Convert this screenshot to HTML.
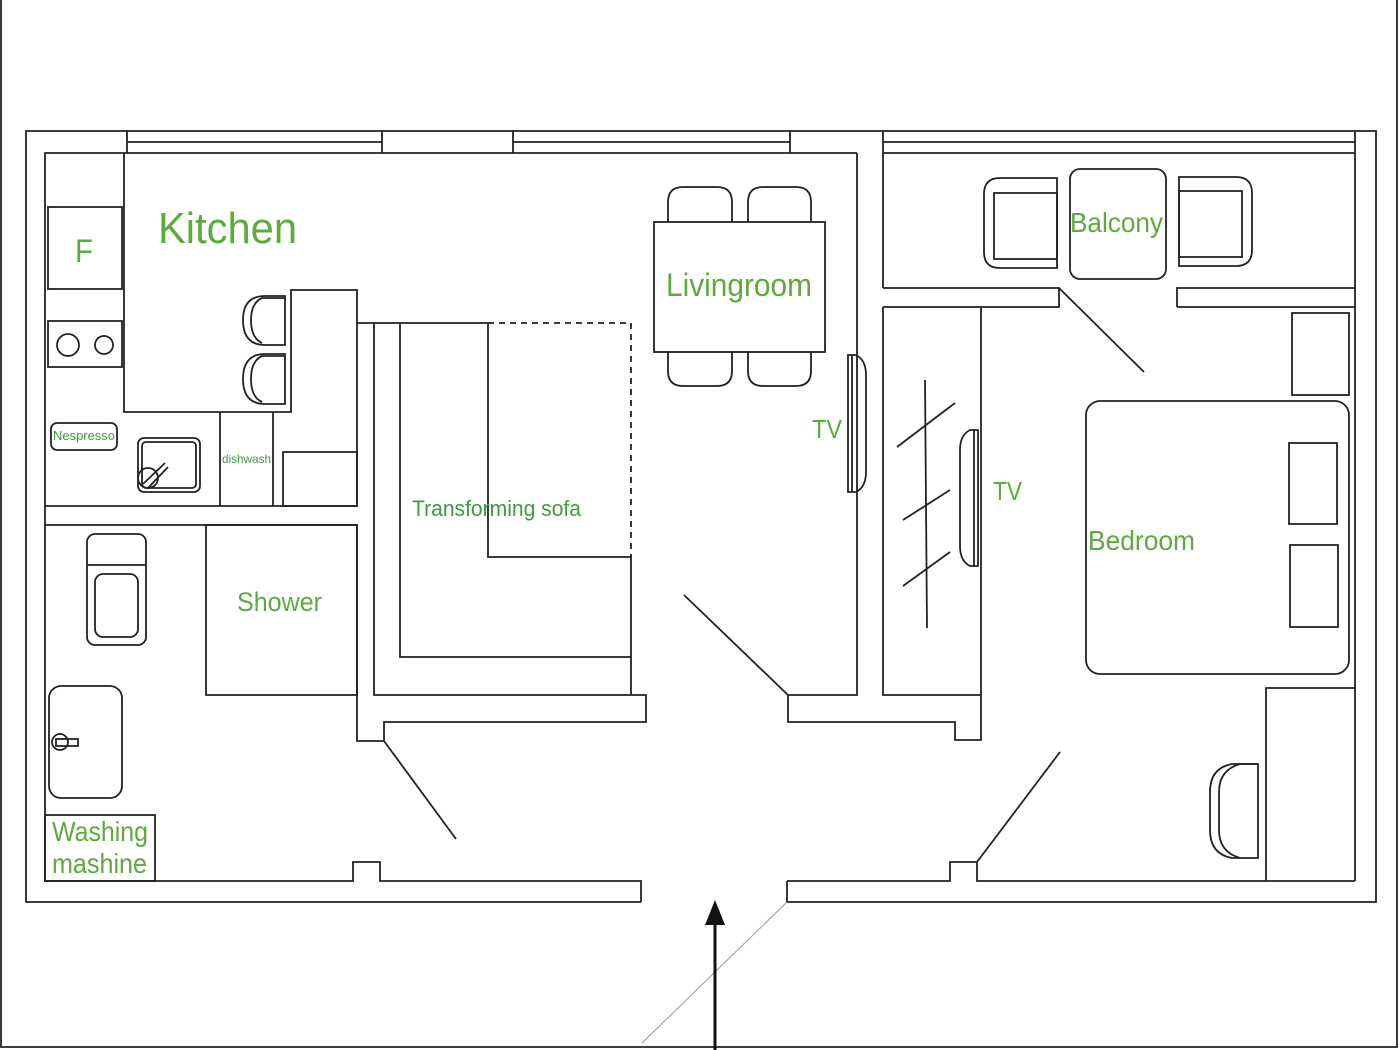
<!DOCTYPE html>
<html><head><meta charset="utf-8"><style>
html,body{margin:0;padding:0;background:#fff;}
svg{display:block;}
text{font-family:"Liberation Sans",sans-serif;fill:#5dab3e;}
</style></head><body>
<svg width="1400" height="1050" viewBox="0 0 1400 1050" xmlns="http://www.w3.org/2000/svg">
<g fill="none" stroke="#222" stroke-width="1.8">
<path d="M1 0 V1047 H1397 V0"/>
<path d="M641 902 H26 V131 H1376 V902 H787 V881"/>
<path d="M641 902 V881 H380 V862 H353 V881 H45 V153 H857"/>
<path d="M127 131 V153 M382 131 V153 M127 142 H382"/>
<path d="M513 131 V153 M790 131 V153 M513 142 H790"/>
<path d="M883 131 V288 M883 142 H1355 M883 153 H1355 M1355 131 V288"/>
<path d="M124 153 V412 H291 V290 H357 V506 M291 412 V290"/>
<path d="M45 506 H357"/>
<path d="M220 412 V506 M273 412 V506"/>
<rect x="283" y="452" width="74" height="54"/>
<rect x="48" y="207" width="74" height="82"/>
<rect x="48" y="321" width="74" height="46"/>
<circle cx="68" cy="345" r="11"/><circle cx="104" cy="345" r="9"/>
<rect x="51" y="423" width="66" height="27" rx="6"/>
<rect x="138" y="438" width="62" height="54" rx="6"/>
<rect x="142" y="442" width="54" height="46" rx="4"/>
<circle cx="148" cy="478" r="10"/>
<path d="M143 484 L165 463 M148 488 L168 467"/>
<path d="M285 296 H265 Q243 296 243 320 Q243 345 265 345 H285 Z"/>
<path d="M285 298 H262 Q251 303 251 320 Q251 338 262 343"/>
<path d="M285 354 H265 Q243 354 243 379 Q243 404 265 404 H285 Z"/>
<path d="M285 356 H262 Q251 361 251 379 Q251 397 262 402"/>
<path d="M45 525 H357 V741 H384 V722 H646 V695 H374 V323"/>
<rect x="206" y="525" width="151" height="170"/>
<rect x="87" y="534" width="59" height="111" rx="8"/>
<path d="M87 565 H146"/>
<rect x="95" y="574" width="43" height="63" rx="8"/>
<rect x="49" y="686" width="73" height="112" rx="12"/>
<circle cx="60" cy="742" r="8"/>
<rect x="56" y="739" width="22" height="7"/>
<rect x="45" y="815" width="110" height="66"/>
<path d="M384 741 L456 839"/>
<path d="M357 323 H488 M400 323 V657 H631 V557 H488 V323 M631 557 V695"/>
<path d="M488 323 H631 V557" stroke-dasharray="6,5"/>
<path d="M857 153 V695 H788 V722 H955 V740 H981 V307"/>
<path d="M883 307 V695 H981"/>
<path d="M684 595 L788 695"/>
<rect x="654" y="222" width="171" height="130"/>
<path d="M668 222 V202 Q668 187 683 187 H717 Q732 187 732 202 V222"/>
<path d="M748 222 V202 Q748 187 763 187 H796 Q811 187 811 202 V222"/>
<path d="M668 352 V371 Q668 386 683 386 H717 Q732 386 732 371 V352"/>
<path d="M748 352 V371 Q748 386 763 386 H796 Q811 386 811 371 V352"/>
<path d="M848 355 H856 Q866 360 866 375 V472 Q866 487 856 492 H848 Z M852 355 V492"/>
<path d="M978 430 H970 Q960 435 960 450 V546 Q960 561 970 566 H978 Z M974 430 V566"/>
<path d="M925 380 L927 628 M897 447 L955 403 M903 520 L950 490 M903 586 L950 552"/>
<path d="M883 288 H1059 V307 H883 M1177 307 V288 H1355 V881 M1177 307 H1355"/>
<path d="M1059 288 L1144 372"/>
<path d="M1057 178 H1000 Q984 178 984 194 V252 Q984 268 1000 268 H1057 Z"/>
<rect x="994" y="193" width="63" height="66"/>
<rect x="1070" y="169" width="96" height="110" rx="10"/>
<path d="M1179 177 H1236 Q1252 177 1252 193 V250 Q1252 266 1236 266 H1179 Z"/>
<rect x="1179" y="191" width="63" height="66"/>
<rect x="1292" y="313" width="57" height="82"/>
<rect x="1086" y="401" width="263" height="273" rx="14"/>
<rect x="1289" y="443" width="48" height="81"/>
<rect x="1290" y="545" width="48" height="82"/>
<path d="M1266 881 V688 H1355"/>
<path d="M1258 764 H1232 Q1210 768 1210 792 V830 Q1210 854 1232 858 H1258 Z"/>
<path d="M1258 764 H1240 Q1219 770 1219 792 V830 Q1219 852 1240 858"/>
<path d="M787 881 H950 V862 H977 V881 H1355"/>
<path d="M977 862 L1060 752"/>
</g>
<path d="M787 902 L642 1043" stroke="#999" stroke-width="1" fill="none"/>
<path d="M715 1050 V920" stroke="#111" stroke-width="3"/>
<polygon points="715,900 705,925 725,925" fill="#111"/>
<g lengthAdjust="spacingAndGlyphs">
<text x="158" y="243" font-size="44" textLength="139" lengthAdjust="spacingAndGlyphs">Kitchen</text>
<text x="75" y="262" font-size="32" textLength="18" lengthAdjust="spacingAndGlyphs">F</text>
<text x="666" y="296" font-size="32" textLength="146" lengthAdjust="spacingAndGlyphs">Livingroom</text>
<text x="812" y="438" font-size="26" textLength="30" lengthAdjust="spacingAndGlyphs">TV</text>
<text x="993" y="500" font-size="26" textLength="29" lengthAdjust="spacingAndGlyphs">TV</text>
<text x="1070" y="232" font-size="28" textLength="93" lengthAdjust="spacingAndGlyphs">Balcony</text>
<text x="1088" y="550" font-size="28" textLength="107" lengthAdjust="spacingAndGlyphs">Bedroom</text>
<text x="412" y="516" font-size="22" textLength="169" lengthAdjust="spacingAndGlyphs" style="fill:#3e9c3e">Transforming sofa</text>
<text x="237" y="611" font-size="27" textLength="85" lengthAdjust="spacingAndGlyphs">Shower</text>
<text x="52" y="841" font-size="28" textLength="96" lengthAdjust="spacingAndGlyphs">Washing</text>
<text x="52" y="873" font-size="28" textLength="95" lengthAdjust="spacingAndGlyphs">mashine</text>
<text x="53" y="440" font-size="13" textLength="62" lengthAdjust="spacingAndGlyphs" style="fill:#3e9c3e">Nespresso</text>
<text x="222" y="463" font-size="12" textLength="49" lengthAdjust="spacingAndGlyphs" style="fill:#3e9c3e">dishwash</text>
</g>
</svg>
</body></html>
